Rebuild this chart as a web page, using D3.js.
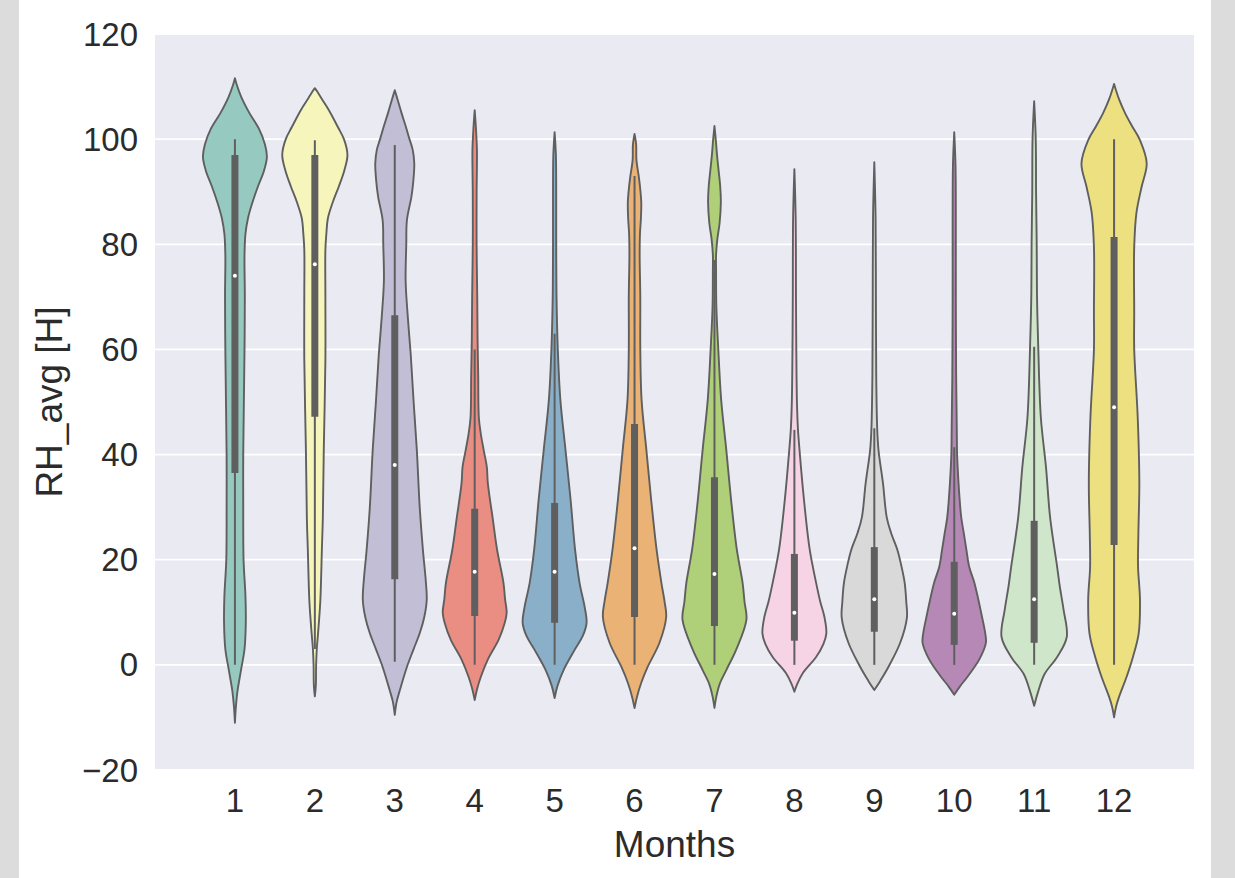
<!DOCTYPE html>
<html>
<head>
<meta charset="utf-8">
<script src="https://cdn.jsdelivr.net/npm/d3@7"></script>
<style>
  html, body { margin: 0; padding: 0; background: #dcdcdc; }
  svg { display: block; }
  text { font-family: "Liberation Sans", Arial, sans-serif; fill: #2b2b2b; }
</style>
</head>
<body>
<script>
// Monthly relative humidity distributions (RH_avg [H]) drawn as violins.
const months = ["1", "2", "3", "4", "5", "6", "7", "8", "9", "10", "11", "12"];
const yTicks = [-20, 0, 20, 40, 60, 80, 100, 120];
const set3 = ["#8dd3c7", "#ffffb3", "#bebada", "#fb8072", "#80b1d3", "#fdb462",
              "#b3de69", "#fccde5", "#d9d9d9", "#bc80bd", "#ccebc5", "#ffed6f"];

// Box summary per month
const whiskerLow  = [0, 3, 0.6, 0, 0, 0, 0, 0, 0, 0, 0, 0];
const quartile1   = [36.5, 47.2, 16.3, 9.3, 8, 9.1, 7.4, 4.6, 6.3, 3.8, 4.2, 22.8];
const medians     = [74, 76.2, 38, 17.7, 17.7, 22.2, 17.3, 9.9, 12.5, 9.7, 12.5, 49];
const quartile3   = [97, 97, 66.5, 29.7, 30.8, 45.8, 35.7, 21.1, 22.4, 19.6, 27.4, 81.4];
const whiskerHigh = [100, 99.8, 98.9, 60, 63, 93, 77, 44.7, 45, 41.4, 60.5, 100];

// Kernel density profiles: [RH value, relative density]
const kdeJan = [[-11,0],[-8,.03],[-5,.08],[-1,.19],[3,.30],[8,.34],[13,.33],[20,.27],[30,.26],[40,.26],[50,.28],[60,.30],[70,.31],[78,.30],[82,.33],[85,.41],[88,.55],[91,.72],[94,.91],[96.6,1.0],[99,.94],[102,.75],[105,.45],[108,.20],[110.3,.06],[111.6,0]];
const kdeFeb = [[-6,0],[-4,.03],[0,.04],[3,.06],[6,.10],[12,.17],[22,.22],[28,.25],[41,.28],[58,.33],[70,.33],[79,.33],[82,.36],[85,.41],[88,.56],[91,.75],[94,.92],[97,1.02],[100,.91],[102.3,.72],[105.5,.44],[107.9,.19],[109,.08],[109.7,0]];
const kdeMar = [[-9.5,0],[-7,.06],[-4.8,.16],[-0.4,.38],[3,.59],[6,.78],[9,.92],[12.4,1.0],[16,.97],[21.9,.88],[30,.78],[40.9,.69],[50,.59],[59,.50],[66,.41],[73,.34],[80,.36],[84.6,.38],[89,.52],[92,.58],[95.4,.61],[98,.56],[100,.46],[102.5,.34],[105,.21],[107.5,.09],[109.3,0]];
const kdeApr = [[-6.7,0],[-4.5,.08],[-2.3,.19],[1,.41],[4.8,.75],[8,.94],[9.9,1.0],[12.5,.95],[15.6,.90],[21.9,.70],[28,.56],[34.6,.41],[37.6,.38],[40.9,.28],[44,.19],[47,.13],[55,.11],[62,.09],[70,.08],[80,.06],[90,.06],[95,.07],[98,.07],[102,.04],[105.5,0]];
const kdeMay = [[-6.3,0],[-4,.09],[-1,.28],[2.9,.63],[5.5,.88],[8,1.0],[11,.94],[15.6,.78],[21.9,.64],[31.4,.50],[40.9,.34],[50.4,.18],[60,.10],[70,.06],[80,.05],[90,.05],[97,.04],[101.3,0]];
const kdeJun = [[-8.2,0],[-6,.08],[-3.4,.21],[-0.4,.41],[4.2,.78],[9.1,.99],[12,.94],[15.6,.84],[21.9,.69],[31.4,.52],[40.9,.37],[50.4,.22],[60,.18],[70,.18],[78,.16],[82,.17],[85,.20],[88,.21],[91,.17],[93,.13],[96,.06],[99,.05],[101,0]];
const kdeJul = [[-8.2,0],[-6,.06],[-3.7,.16],[-1,.37],[2.9,.68],[8.6,1.0],[12,.94],[15.6,.88],[21.9,.70],[31.4,.52],[40.9,.37],[50.4,.21],[60,.12],[68,.06],[75,.05],[78,.05],[81,.09],[84,.16],[88,.20],[91,.18],[94,.13],[97,.08],[100,.04],[102.5,0]];
const kdeAug = [[-5.1,0],[-3.6,.09],[-1.5,.27],[1.5,.68],[4,.91],[6,1.0],[9.1,.94],[12,.81],[15.6,.68],[21.9,.48],[31.4,.30],[40.9,.16],[45,.11],[50,.08],[60,.06],[70,.05],[85,.04],[94.3,0]];
const kdeSep = [[-4.8,0],[-3,.19],[-0.4,.44],[4.2,.81],[9,1.02],[12,1.0],[15.6,.95],[19,.84],[21.9,.72],[25,.53],[28,.39],[34.6,.27],[40.9,.13],[45,.09],[55,.06],[70,.05],[85,.04],[95.6,0]];
const kdeOct = [[-5.7,0],[-4,.19],[-2.3,.41],[1,.78],[4.2,.99],[6,.97],[9.1,.87],[15.6,.63],[18.6,.47],[21.9,.38],[25,.30],[28,.22],[31.4,.17],[35,.13],[40,.09],[45,.08],[55,.06],[70,.05],[85,.05],[95,.04],[101.3,0]];
const kdeNov = [[-7.8,0],[-5,.13],[-1.7,.33],[1.5,.72],[5.3,1.02],[10.5,.92],[15,.80],[18.6,.72],[28,.50],[37.6,.37],[47,.21],[60,.13],[70,.09],[80,.08],[90,.06],[100,.05],[107.2,0]];
const kdeDec = [[-10,0],[-8,.06],[-6,.16],[-2.3,.39],[1.5,.59],[6,.77],[12.4,.81],[18.6,.75],[25,.76],[34.6,.79],[47,.74],[60,.63],[67,.63],[79.5,.63],[86,.70],[90.9,.86],[95.4,1.02],[99.8,.81],[102.5,.56],[105,.34],[107.5,.16],[109.5,.05],[110.5,0]];
const profiles = [kdeJan, kdeFeb, kdeMar, kdeApr, kdeMay, kdeJun,
                  kdeJul, kdeAug, kdeSep, kdeOct, kdeNov, kdeDec];

const W = 1235, H = 878;
const plot = { left: 155, right: 1194, top: 34, bottom: 770 };
const inkGray = "#5f5f5f";

const svg = d3.select("body").append("svg")
  .attr("width", W).attr("height", H);

// white figure canvas between the grey margins
svg.append("rect").attr("x", 0).attr("y", 0).attr("width", W).attr("height", H).attr("fill", "#dcdcdc");
svg.append("rect").attr("x", 19).attr("y", 0).attr("width", 1192).attr("height", H).attr("fill", "#ffffff");

const x = d3.scaleLinear().domain([-1, months.length]).range([plot.left, plot.right]);
const y = d3.scaleLinear().domain([-20, 120]).range([plot.bottom, plot.top]);
const step = x(1) - x(0);
const halfWidth = d3.scaleLinear().domain([0, 1]).range([0, 0.4 * step]);

// axes background and grid
svg.append("rect")
  .attr("x", plot.left).attr("y", plot.top)
  .attr("width", plot.right - plot.left).attr("height", plot.bottom - plot.top)
  .attr("fill", "#eaeaf2");

svg.append("g").selectAll("line").data(yTicks).join("line")
  .attr("x1", plot.left).attr("x2", plot.right)
  .attr("y1", d => y(d)).attr("y2", d => y(d))
  .attr("stroke", "#ffffff").attr("stroke-width", 1.8);

// y tick labels
svg.append("g").selectAll("text").data(yTicks).join("text")
  .attr("x", plot.left - 17).attr("y", d => y(d))
  .attr("dy", "0.35em").attr("text-anchor", "end")
  .attr("font-size", 33)
  .text(d => d < 0 ? "\u2212" + Math.abs(d) : d);

// x tick labels
svg.append("g").selectAll("text").data(months).join("text")
  .attr("x", (d, i) => x(i)).attr("y", 812)
  .attr("text-anchor", "middle").attr("font-size", 33)
  .text(d => d);

// axis titles
svg.append("text").attr("x", (plot.left + plot.right) / 2).attr("y", 857)
  .attr("text-anchor", "middle").attr("font-size", 37).text("Months");
svg.append("text")
  .attr("transform", `translate(62,${(plot.top + plot.bottom) / 2}) rotate(-90)`)
  .attr("text-anchor", "middle").attr("font-size", 37).text("RH_avg [H]");

// violins
const violins = svg.append("g");
profiles.forEach((prof, i) => {
  const cx = x(i);
  const base = d3.hsl(set3[i]);
  base.s *= 0.75;
  const area = d3.area()
    .y(d => y(d[0]))
    .x0(d => cx - halfWidth(d[1]))
    .x1(d => cx + halfWidth(d[1]))
    .curve(d3.curveCatmullRom.alpha(0.5));
  const g = violins.append("g");
  g.append("path").attr("d", area(prof))
    .attr("fill", base.formatHex())
    .attr("stroke", inkGray).attr("stroke-width", 1.9)
    .attr("stroke-linejoin", "round");
  // whisker
  g.append("line").attr("x1", cx).attr("x2", cx)
    .attr("y1", y(whiskerLow[i])).attr("y2", y(whiskerHigh[i]))
    .attr("stroke", inkGray).attr("stroke-width", 2);
  // interquartile box
  g.append("line").attr("x1", cx).attr("x2", cx)
    .attr("y1", y(quartile1[i])).attr("y2", y(quartile3[i]))
    .attr("stroke", inkGray).attr("stroke-width", 7)
    .attr("stroke-linecap", "butt");
  // median
  g.append("circle").attr("cx", cx).attr("cy", y(medians[i]))
    .attr("r", 2).attr("fill", "#ffffff");
});
</script>
</body>
</html>
